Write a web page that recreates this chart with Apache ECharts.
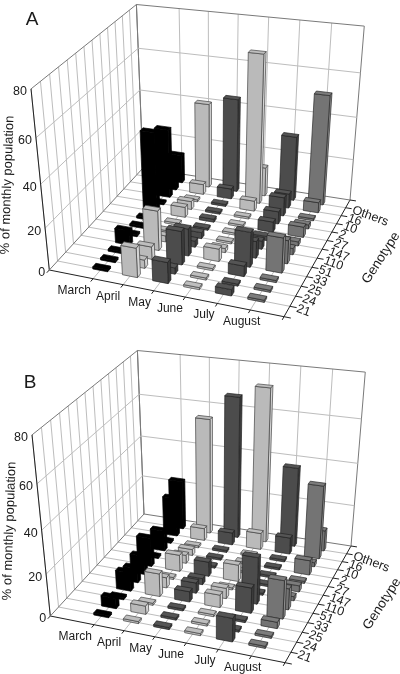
<!DOCTYPE html>
<html><head><meta charset="utf-8">
<style>html,body{margin:0;padding:0;background:#fff}#c{width:400px;height:674px}</style>
<script src="https://cdn.jsdelivr.net/npm/echarts@6/dist/echarts.min.js"></script></head>
<body><div id="c"></div>
<script>
const months = ['March','April','May','June','July','August'];
const genotypes = ['21','24','25','33','51','110','147','27','2','10','16','Others'];
const zTicks = [0,20,40,60,80];
// Panel A, % of monthly population per genotype
const A_March  = [1,1,1,7,1,1,1,39,1,33.5,5,14];
const A_April  = [14,4,6,19,3,1,1,5,4,1,5,41];
const A_May    = [10,3,16,13,3,3,1,1.5,1,1,5,45];
const A_June   = [1,1,1,6,2,1,1,1,1,5,70,14];
const A_July   = [3,1,5,16.5,8,4,2,5,6,9,7,31];
const A_August = [1,1,1,16.5,11,3,2,5,2,1,5,52];
// Panel B
const B_March  = [1,5,1,9,7,9,14,1,10,1,19,24];
const B_April  = [1,4,1,11,5,1,8,4,3,1,6,55.5];
const B_May    = [1,1,1,5,5,3,7,1,1,1,6,67];
const B_June   = [1,1,1,6,5,1,8,1,1,1,8,72.5];
const B_July   = [11,1,1,12,22,1,1,1,1,1,8,38];
const B_August = [1,1,3,18,10,2,3,1,7,2,35,10];

const fills = [
 {f:'#000000',s:'#000000',t:'#000000',l:'#000000'},
 {f:'#bababa',s:'#d4d4d4',t:'#bebebe',l:'#444444'},
 {f:'#4c4c4c',s:'#3c3c3c',t:'#555555',l:'#222222'},
 {f:'#bababa',s:'#d4d4d4',t:'#bebebe',l:'#444444'},
 {f:'#4c4c4c',s:'#3c3c3c',t:'#555555',l:'#222222'},
 {f:'#747474',s:'#8c8c8c',t:'#7c7c7c',l:'#2a2a2a'}
];
const U_MAX=7.5, V_MAX=13, Z_MAX=80;
const uTicks=[0,1.5,2.5,3.5,4.5,5.5,6.5,7.5];
const vTicks=Array.from({length:14},(_,i)=>i);
const MONTH_U=1.5, ROW_V=1.1, HW=0.25, HD=0.2;
const monthLabelNudge=[-4,0,1,0,2,7];

function homography(p){ // unit square -> quad (p00,p10,p11,p01)
  const [x0,y0]=p[0],[x1,y1]=p[1],[x2,y2]=p[2],[x3,y3]=p[3];
  const dx1=x1-x2,dx2=x3-x2,sx=x0-x1+x2-x3,dy1=y1-y2,dy2=y3-y2,sy=y0-y1+y2-y3;
  const den=dx1*dy2-dx2*dy1;
  const g=(sx*dy2-dx2*sy)/den,h=(dx1*sy-sx*dy1)/den;
  return [x1-x0+g*x1,x3-x0+h*x3,x0,y1-y0+g*y1,y3-y0+h*y3,y0,g,h,1];
}
function makeProj(ox,oy){
  const H=homography([[49.3+ox,270+oy],[284+ox,316.7+oy],[350+ox,200+oy],[143+ox,168+oy]]);
  const V=[212+ox,1882+oy],W=-0.101;
  return function(u,v,z){
    const X=u/U_MAX,Y=v/V_MAX,Z=z/Z_MAX;
    const a=H[0]*X+H[1]*Y+H[2],b=H[3]*X+H[4]*Y+H[5],c=H[6]*X+H[7]*Y+H[8];
    const w=W*Z;
    return [(a+w*V[0])/(c+w),(b+w*V[1])/(c+w)];
  };
}
function line(p,q,color,width){
  return {type:'line',shape:{x1:p[0],y1:p[1],x2:q[0],y2:q[1]},style:{stroke:color,lineWidth:width||1},silent:true};
}
function label(text,x,y,opt){
  opt=opt||{};
  return {type:'text',x:x,y:y,rotation:(opt.rot||0)*Math.PI/180,silent:true,
    style:{text:text,x:0,y:0,fill:'#1a1a1a',font:(opt.size||12)+'px "Liberation Sans"',
    align:opt.align||'center',verticalAlign:'middle'}};
}
function frame(P,ox,oy,letter){
  const G='#bdbdbd',E='#7a7a7a',D='#222222',c=[];
  uTicks.forEach(u=>{
    if(u>0&&u<U_MAX) c.push(line(P(u,0,0),P(u,V_MAX,0),G));
    c.push(line(P(u,V_MAX,0),P(u,V_MAX,Z_MAX),u===0||u===U_MAX?E:G));
  });
  vTicks.forEach(v=>{
    if(v>0&&v<V_MAX) c.push(line(P(0,v,0),P(U_MAX,v,0),G));
    c.push(line(P(0,v,0),P(0,v,Z_MAX),v===V_MAX?E:G));
  });
  zTicks.forEach(z=>{
    if(z>0&&z<Z_MAX){c.push(line(P(0,0,z),P(0,V_MAX,z),G));c.push(line(P(0,V_MAX,z),P(U_MAX,V_MAX,z),G));}
  });
  c.push(line(P(0,0,Z_MAX),P(0,V_MAX,Z_MAX),E));
  c.push(line(P(0,V_MAX,Z_MAX),P(U_MAX,V_MAX,Z_MAX),E));
  c.push(line(P(0,0,0),P(0,0,Z_MAX),D));
  c.push(line(P(0,0,0),P(U_MAX,0,0),D));
  c.push(line(P(U_MAX,0,0),P(U_MAX,V_MAX,0),D));
  c.push(line(P(0,0,0),P(0,V_MAX,0),'#777'));
  c.push(line(P(0,V_MAX,0),P(U_MAX,V_MAX,0),'#777'));
  uTicks.forEach(u=>c.push(line(P(u,0,0),P(u,-0.3,0),D)));
  vTicks.forEach(v=>c.push(line(P(U_MAX,v,0),P(U_MAX+0.2,v,0),D)));
  zTicks.forEach(z=>{const p=P(0,0,z);c.push(label(String(z),p[0]-4,p[1]+3,{align:'right',size:12.5}));});
  months.forEach((m,i)=>{const p=P(i+1.3,0,0);c.push(label(m,p[0]-9+monthLabelNudge[i],p[1]+13));});
  genotypes.forEach((g,i)=>{const p=P(U_MAX,i+1,0);c.push(label(g,p[0]+7,p[1]+2,{align:'left',rot:-20,size:12.5}));});
  c.push(label('% of monthly population',letter==='A'?7.5:9.5,oy+185,{rot:88,size:13}));
  c.push(label('Genotype',ox+381,oy+258,{rot:57,size:13.5}));
  c.push(label(letter,letter==='A'?32:30,letter==='A'?20:383,{size:19}));
  return {type:'group',children:c};
}
function barShape(P,m,r,val){
  const col=fills[m];
  const u0=m+MONTH_U-HW,u1=m+MONTH_U+HW,v0=r+ROW_V-HD,v1=r+ROW_V+HD;
  const poly=(pts,fill)=>({type:'polygon',shape:{points:pts},silent:true,
    style:{fill:fill,stroke:col.l,lineWidth:0.7,lineJoin:'round'}});
  return {type:'group',children:[
    poly([P(u1,v0,0),P(u1,v1,0),P(u1,v1,val),P(u1,v0,val)],col.s),
    poly([P(u0,v0,0),P(u1,v0,0),P(u1,v0,val),P(u0,v0,val)],col.f),
    poly([P(u0,v0,val),P(u1,v0,val),P(u1,v1,val),P(u0,v1,val)],col.t)
  ]};
}
function panelData(rows){
  const out=[];
  rows.forEach((vals,m)=>vals.forEach((v,r)=>out.push([m,r,v])));
  out.sort((a,b)=>b[1]-a[1]||a[0]-b[0]);
  return out;
}
function panelSeries(rows,ox,oy,letter){
  const P=makeProj(ox,oy);
  return [
    {type:'custom',coordinateSystem:'none',animation:false,silent:true,z:1,data:[[0]],
     renderItem:()=>frame(P,ox,oy,letter)},
    {type:'custom',coordinateSystem:'none',animation:false,silent:true,z:2,data:panelData(rows),
     encode:{},renderItem:(p,api)=>barShape(P,api.value(0),api.value(1),api.value(2))}
  ];
}
const chart=echarts.init(document.getElementById('c'),null,{renderer:'canvas'});
chart.setOption({animation:false,backgroundColor:'#fff',series:[
  ...panelSeries([A_March,A_April,A_May,A_June,A_July,A_August],0,0,'A'),
  ...panelSeries([B_March,B_April,B_May,B_June,B_July,B_August],1,346,'B')
]});
</script></body></html>
